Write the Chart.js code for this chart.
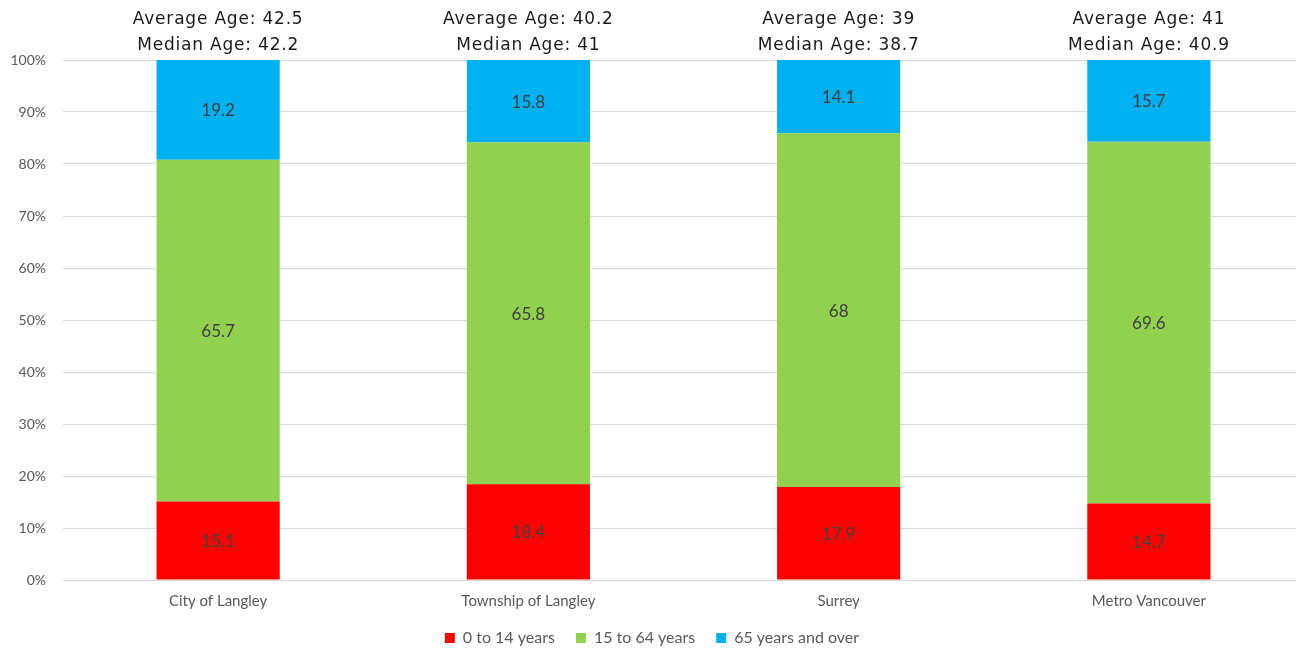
<!DOCTYPE html>
<html>
<head>
<meta charset="utf-8">
<script src="https://cdn.jsdelivr.net/npm/chart.js@4.4.1/dist/chart.umd.min.js"></script>
<style>
  html, body { margin: 0; padding: 0; background: #ffffff; overflow: hidden; }
  #wrap { width: 1304px; height: 648px; position: relative; }
</style>
</head>
<body>
<div id="wrap"><canvas id="chart"></canvas></div>
<script>
// Age distribution by community (percent of population)
const categories = ['City of Langley', 'Township of Langley', 'Surrey', 'Metro Vancouver'];
const age0to14 = [15.1, 18.4, 17.9, 14.7];
const age15to64 = [65.7, 65.8, 68, 69.6];
const age65plus = [19.2, 15.8, 14.1, 15.7];
const averageAge = [42.5, 40.2, 39, 41];
const medianAge = [42.2, 41, 38.7, 40.9];
const yTicks = [0, 10, 20, 30, 40, 50, 60, 70, 80, 90, 100];

const tickColor = '#595959';
const gridColor = '#d9d9d9';
const bodyFont = 'Lato, "Open Sans", sans-serif';

// Writes each segment's value inside its bar and the age summary above each column
const labelPlugin = {
  id: 'segmentLabels',
  afterDatasetsDraw(chart) {
    const ctx = chart.ctx;
    ctx.save();
    ctx.textAlign = 'center';
    ctx.textBaseline = 'middle';
    ctx.font = '17px ' + bodyFont;
    ctx.fillStyle = '#404040';
    chart.data.datasets.forEach((ds, di) => {
      const meta = chart.getDatasetMeta(di);
      meta.data.forEach((bar, i) => {
        const y = (bar.y + bar.base) / 2;
        ctx.fillText(String(ds.data[i]), bar.x, y + 1);
      });
    });
    // age summary above each column
    ctx.font = '17px "DejaVu Sans", sans-serif';
    ctx.letterSpacing = '0.8px';
    ctx.fillStyle = '#1a1a1a';
    const xs = chart.scales.x;
    categories.forEach((c, i) => {
      const x = xs.getPixelForValue(i);
      ctx.fillText('Average Age: ' + averageAge[i], x, 20);
      ctx.fillText('Median Age: ' + medianAge[i], x, 46);
    });
    ctx.restore();
  }
};

new Chart(document.getElementById('chart'), {
  type: 'bar',
  data: {
    labels: categories,
    datasets: [
      { label: '0 to 14 years', data: age0to14, backgroundColor: '#ff0000' },
      { label: '15 to 64 years', data: age15to64, backgroundColor: '#92d050' },
      { label: '65 years and over', data: age65plus, backgroundColor: '#00b0f0' }
    ]
  },
  options: {
    responsive: true,
    maintainAspectRatio: false,
    animation: false,
    layout: { padding: { top: 60, right: 0, left: 0, bottom: -8 } },
    datasets: { bar: { categoryPercentage: 1, barPercentage: 0.397 } },
    scales: {
      x: {
        stacked: true,
        grid: { display: false, drawTicks: false },
        border: { color: gridColor },
        afterFit(axis) { axis.height = 29; },
        ticks: { color: tickColor, font: { family: bodyFont, size: 15 }, padding: 12 }
      },
      y: {
        stacked: true,
        min: 0,
        max: 100,
        afterBuildTicks(axis) { axis.ticks = yTicks.map(v => ({ value: v })); },
        afterFit(axis) { axis.width = 63; },
        grid: { color: gridColor, drawTicks: false },
        border: { display: false },
        ticks: {
          color: tickColor,
          font: { family: bodyFont, size: 14 },
          padding: 17,
          callback: v => v + '%'
        }
      }
    },
    plugins: {
      legend: {
        position: 'bottom',
        labels: {
          boxWidth: 10,
          boxHeight: 10,
          color: tickColor,
          font: { family: bodyFont, size: 16 },
          padding: 21
        }
      },
      tooltip: { enabled: false }
    }
  },
  plugins: [labelPlugin]
});
</script>
</body>
</html>
